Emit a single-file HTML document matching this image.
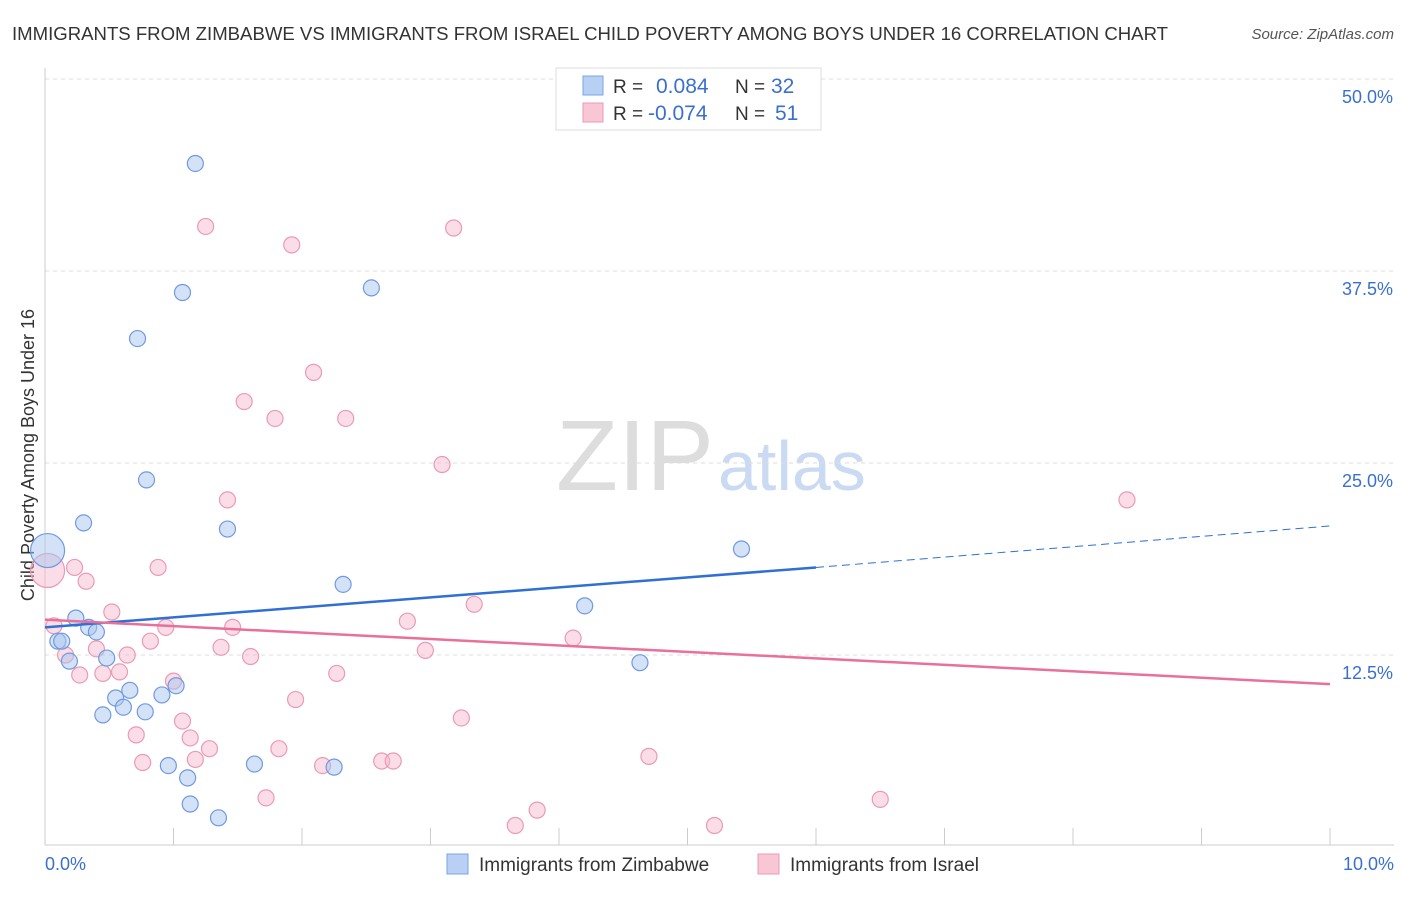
<!DOCTYPE html>
<html><head><meta charset="utf-8"><style>
body{margin:0;background:#fff;font-family:"Liberation Sans",sans-serif;}
svg text{font-family:"Liberation Sans",sans-serif;}
</style></head><body>
<svg id="chart" width="1406" height="892">
<text x="12" y="40" font-size="18" fill="#333" textLength="1156" lengthAdjust="spacingAndGlyphs">IMMIGRANTS FROM ZIMBABWE VS IMMIGRANTS FROM ISRAEL CHILD POVERTY AMONG BOYS UNDER 16 CORRELATION CHART</text>
<text x="1394" y="39" font-size="15" fill="#555" font-style="italic" text-anchor="end">Source: ZipAtlas.com</text>
<text x="714" y="490" font-size="100" fill="#ddd" text-anchor="end" textLength="158" lengthAdjust="spacingAndGlyphs" font-family="Liberation Serif">ZIP</text>
<text x="718" y="490" font-size="70" fill="#c9daf2">atlas</text>
<text transform="translate(34,455) rotate(-90)" font-size="18" fill="#333" text-anchor="middle">Child Poverty Among Boys Under 16</text>
<g id="grid"></g><g id="pts"></g><g id="lines"></g>
<g>
<rect x="556" y="68" width="265" height="62" fill="#fff" stroke="#ddd"/>
<rect x="583" y="76" width="20" height="19" fill="#b8d0f4" stroke="#7ba3e3"/>
<rect x="583" y="103" width="20" height="19" fill="#f9c6d5" stroke="#eb9ab4"/>
<text x="613" y="93" font-size="19" fill="#333">R =</text><text x="656" y="93" font-size="21" fill="#3a6fd0">0.084</text>
<text x="735" y="93" font-size="19" fill="#333">N =</text><text x="771" y="93" font-size="21" fill="#3a6fd0">32</text>
<text x="613" y="120" font-size="19" fill="#333">R =</text><text x="648" y="120" font-size="21" fill="#3a6fd0">-0.074</text>
<text x="735" y="120" font-size="19" fill="#333">N =</text><text x="775" y="120" font-size="21" fill="#3a6fd0">51</text>
</g>
<g>
<rect x="447" y="854" width="21" height="20" fill="#b8d0f4" stroke="#7ba3e3"/>
<text x="479" y="871" font-size="19" fill="#333">Immigrants from Zimbabwe</text>
<rect x="758" y="854" width="21" height="20" fill="#f9c6d5" stroke="#eb9ab4"/>
<text x="790" y="871" font-size="19" fill="#333">Immigrants from Israel</text>
</g>
<text x="45" y="870" font-size="18" fill="#3a6fd0">0.0%</text>
<text x="1394" y="870" font-size="18" fill="#3a6fd0" text-anchor="end">10.0%</text>
</svg>
<script>
const yTicks=[12.5,25,37.5,50];
const yTickLabels=["12.5%","25.0%","37.5%","50.0%"];
const blueX=[1.17,1.07,2.54,0.72,0.79,0.30,1.42,5.42,2.32,4.20,0.24,0.34,0.40,0.10,0.13,0.19,0.48,4.63,0.66,0.91,1.02,0.55,0.61,0.78,0.45,0.96,1.11,1.63,2.25,1.13,1.35,0.02];
const blueY=[44.5,36.1,36.4,33.1,23.9,21.1,20.7,19.4,17.1,15.7,14.9,14.3,14.0,13.4,13.4,12.1,12.3,12.0,10.2,9.9,10.5,9.7,9.1,8.8,8.6,5.3,4.5,5.4,5.2,2.8,1.9,19.3];
const pinkX=[1.25,1.92,3.18,2.09,1.55,1.79,2.34,3.09,1.42,8.42,0.88,0.23,0.32,0.02,0.52,3.34,2.82,0.94,1.46,0.07,4.11,0.82,0.40,1.37,2.96,1.60,0.16,0.64,0.58,0.45,0.27,2.27,1.00,1.95,1.07,3.24,0.71,1.13,1.28,1.82,0.76,1.17,2.16,2.62,2.71,4.70,1.72,6.50,3.83,3.66,5.21];
const pinkY=[40.4,39.2,40.3,30.9,29.0,27.9,27.9,24.9,22.6,22.6,18.2,18.2,17.3,18.0,15.3,15.8,14.7,14.3,14.3,14.4,13.6,13.4,12.9,13.0,12.8,12.4,12.5,12.5,11.4,11.3,11.2,11.3,10.8,9.6,8.2,8.4,7.3,7.1,6.4,6.4,5.5,5.7,5.3,5.6,5.6,5.9,3.2,3.1,2.4,1.4,1.4];
const bigBlue=[31], bigPink=[13];
const blueTrend=[[0,14.3],[6,18.2],[10,20.9]];
const pinkTrend=[[0,14.8],[10,10.6]];
const X0=45,X1=1330,YB=847,YPX=15.36;
const sx=v=>X0+v*(X1-X0)/10, sy=v=>YB-v*YPX;
const NS="http://www.w3.org/2000/svg";
function mk(t,a,p){const e=document.createElementNS(NS,t);for(const k in a)e.setAttribute(k,a[k]);p.appendChild(e);return e;}
const grid=document.getElementById('grid');
yTicks.forEach((t,i)=>{
 const l=mk('line',{x1:45,x2:1394,y1:sy(t),y2:sy(t),stroke:'#ddd','stroke-dasharray':'4,4'},grid);
 
 
 const tx=mk('text',{x:1393,y:sy(t)+24,'font-size':18,fill:'#3a6fd0','text-anchor':'end'},grid);
 tx.textContent=yTickLabels[i];
 
 
});
const ax=mk('line',{x1:45,x2:45,y1:68,y2:845,stroke:'#ccc'},grid);


const xa=mk('line',{x1:45,x2:1394,y1:845,y2:845,stroke:'#ccc'},grid);


for(let i=0;i<=10;i++){const t=mk('line',{x1:sx(i),x2:sx(i),y1:828,y2:845,stroke:'#ccc'},grid);
 
 }
const pts=document.getElementById('pts');
pinkX.forEach((x,i)=>{const c=mk('circle',{cx:sx(x),cy:sy(pinkY[i]),r:bigPink.includes(i)?17:8,fill:'rgba(246,180,202,0.45)',stroke:'#eb9ab4','stroke-width':1.2},pts);
 
 });
blueX.forEach((x,i)=>{const c=mk('circle',{cx:sx(x),cy:sy(blueY[i]),r:bigBlue.includes(i)?17:8,fill:'rgba(170,198,240,0.5)',stroke:'#6f9ae0','stroke-width':1.2},pts);
 
 });
const lines=document.getElementById('lines');
const b1=mk('line',{x1:sx(blueTrend[0][0]),y1:sy(blueTrend[0][1]),x2:sx(blueTrend[1][0]),y2:sy(blueTrend[1][1]),stroke:'#2f6fd6','stroke-width':2.5},lines);


const b2=mk('line',{x1:sx(blueTrend[1][0]),y1:sy(blueTrend[1][1]),x2:sx(blueTrend[2][0]),y2:sy(blueTrend[2][1]),stroke:'#2f6fd6','stroke-width':1,'stroke-dasharray':'8,5'},lines);


const p1=mk('line',{x1:sx(pinkTrend[0][0]),y1:sy(pinkTrend[0][1]),x2:sx(pinkTrend[1][0]),y2:sy(pinkTrend[1][1]),stroke:'#e8709a','stroke-width':2.5},lines);


</script>
</body></html>
